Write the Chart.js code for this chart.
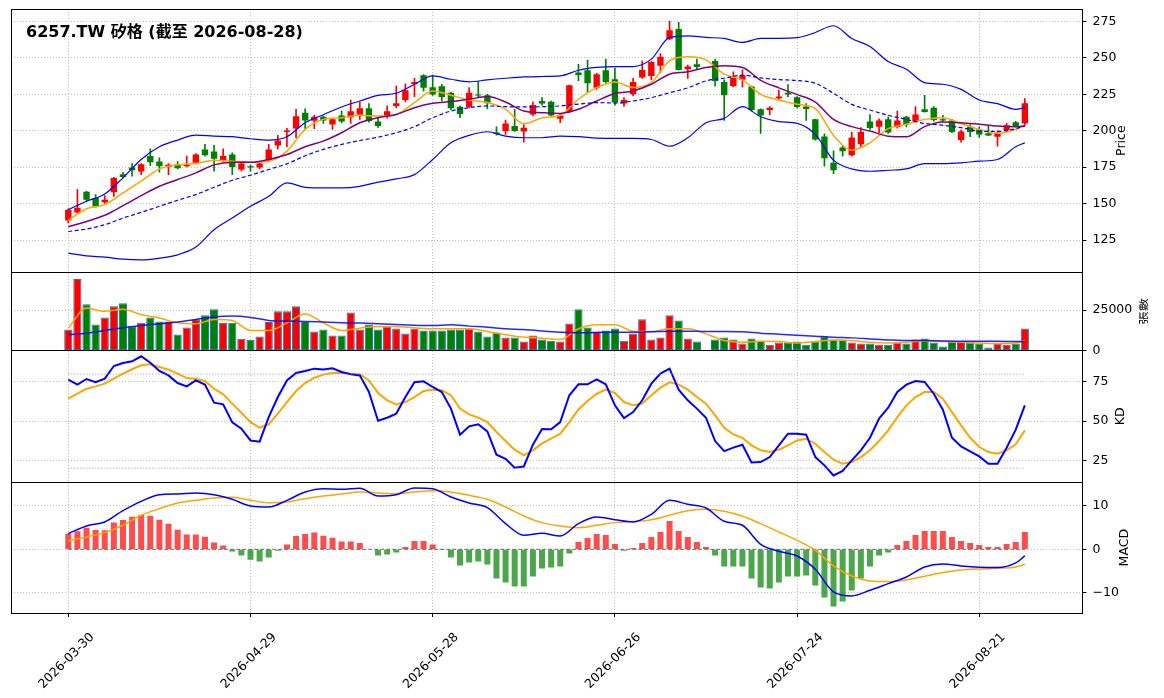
<!DOCTYPE html>
<html>
<head>
<meta charset="utf-8">
<title>6257.TW 矽格</title>
<script src="https://cdn.jsdelivr.net/npm/chart.js@4.4.1/dist/chart.umd.min.js"></script>
<style>
  html, body { margin: 0; padding: 0; background: #fff; }
  #wrap { width: 1164px; height: 698px; position: relative; }
</style>
</head>
<body>
<div id="wrap"><canvas id="chart"></canvas></div>
<script>
// values (one entry per trading day, index 70 = no trade)
const titleText = "6257.TW 矽格 (截至 2026-08-28)";
const axisTitles = ["Price", "張數", "KD", "MACD"];
const tickIdx = [0, 20, 40, 60, 80, 100];
const tickDates = ["2026-03-30", "2026-04-29", "2026-05-28", "2026-06-26", "2026-07-24", "2026-08-21"];

const opens = [
  138.5, 144.0, 158.2, 153.9, 150.9, 157.8, 170.2, 174.7, 172.0, 182.6,
  178.9, 175.2, 176.8, 175.7, 178.0, 187.1, 185.8, 179.8, 183.7, 173.4,
  175.7, 174.7, 179.8, 189.9, 199.1, 201.6, 212.4, 206.9, 209.6, 204.3,
  210.5, 209.2, 211.0, 215.4, 206.4, 210.1, 217.0, 221.1, 232.1, 238.1,
  229.8, 230.5, 226.1, 216.5, 216.3, 224.8, 224.3, 198.8, 199.8, 203.2,
  199.5, 211.2, 220.4, 219.9, 208.2, 212.8, 239.9, 241.5, 229.4, 241.5,
  235.3, 218.6, 225.0, 236.5, 237.6, 244.5, 262.8, 269.7, 242.2, 245.6,
  null, 247.9, 233.5, 230.7, 234.9, 230.3, 214.7, 214.2, 222.2, 226.1,
  222.9, 216.7, 207.8, 196.1, 178.0, 188.5, 183.2, 190.8, 206.4, 202.7,
  207.8, 202.5, 209.6, 206.4, 214.7, 215.8, 207.8, 207.1, 193.6, 202.7,
  200.9, 198.2, 195.9, 200.4, 205.9, 205.0
];
const closes = [
  145.8, 147.2, 152.7, 148.1, 152.7, 167.6, 168.3, 172.9, 177.0, 178.4,
  175.7, 176.6, 174.3, 176.6, 183.7, 183.2, 180.7, 182.6, 175.2, 177.5,
  174.7, 177.5, 187.1, 193.3, 200.2, 209.9, 207.1, 209.6, 207.1, 207.8,
  206.4, 213.3, 215.4, 206.6, 203.2, 213.3, 218.8, 227.7, 233.5, 229.4,
  224.8, 223.2, 215.4, 211.5, 226.1, 224.1, 218.8, 197.8, 205.0, 199.8,
  202.0, 217.6, 218.6, 210.5, 210.5, 231.2, 238.3, 232.6, 238.8, 233.5,
  219.3, 221.1, 233.5, 241.7, 247.2, 250.7, 269.0, 241.7, 244.0, 243.8,
  null, 234.2, 224.3, 236.5, 238.1, 214.2, 210.5, 215.8, 223.4, 224.8,
  216.3, 214.9, 194.0, 181.2, 172.9, 186.0, 195.4, 199.3, 201.8, 207.1,
  198.8, 207.1, 204.3, 211.2, 212.8, 207.3, 207.1, 199.1, 199.5, 199.1,
  197.5, 196.8, 198.6, 203.7, 203.2, 218.8
];
const highs = [
  146.5, 159.6, 158.5, 156.2, 155.5, 168.0, 171.5, 177.5, 177.5, 187.6,
  181.4, 177.5, 178.9, 182.6, 184.4, 190.6, 190.0, 187.6, 184.8, 178.0,
  176.6, 179.1, 190.6, 196.8, 201.6, 214.7, 215.1, 210.5, 210.1, 208.2,
  213.5, 221.1, 219.7, 218.6, 208.9, 217.0, 230.7, 232.1, 236.0, 238.6,
  238.1, 231.9, 226.6, 217.0, 229.6, 233.9, 225.0, 202.7, 207.3, 214.7,
  204.3, 219.9, 222.7, 220.4, 211.9, 231.4, 245.6, 248.4, 239.4, 249.1,
  242.9, 222.7, 236.0, 247.9, 247.5, 253.0, 275.0, 274.3, 245.0, 249.1,
  null, 249.1, 234.9, 240.4, 241.7, 230.7, 215.1, 216.5, 227.9, 231.6,
  223.4, 218.6, 208.0, 197.9, 186.2, 189.4, 199.1, 202.1, 211.0, 208.2,
  209.6, 213.5, 210.1, 216.5, 224.3, 216.5, 210.5, 207.8, 200.4, 204.3,
  202.7, 203.2, 199.8, 205.0, 206.4, 222.0
];
const lows = [
  136.7, 143.5, 151.5, 147.6, 150.4, 155.0, 167.6, 168.8, 169.9, 176.1,
  171.5, 169.9, 173.8, 175.2, 177.5, 182.6, 172.2, 178.9, 169.9, 172.5,
  172.2, 173.8, 179.1, 187.6, 189.0, 195.2, 201.4, 201.4, 205.0, 200.9,
  205.5, 205.0, 207.8, 205.9, 202.3, 208.7, 215.6, 219.7, 223.4, 227.1,
  224.3, 220.4, 214.2, 209.0, 215.8, 223.0, 215.0, 197.0, 197.5, 199.6,
  192.2, 210.1, 217.6, 210.1, 205.5, 212.4, 234.4, 226.1, 228.4, 232.6,
  217.6, 216.6, 223.8, 235.8, 234.9, 239.9, 262.4, 241.5, 235.8, 242.6,
  null, 230.5, 207.1, 230.0, 229.8, 213.5, 198.2, 211.0, 221.1, 223.4,
  215.6, 207.1, 193.5, 175.7, 170.6, 182.6, 182.6, 189.0, 200.9, 198.6,
  198.1, 201.8, 202.7, 206.0, 212.8, 206.6, 206.4, 198.6, 192.2, 195.9,
  195.4, 196.6, 189.4, 199.1, 202.7, 203.7
];
const volumes = [
  12900, 44200, 28500, 16000, 20400, 27300, 29200, 15000, 17100, 20400,
  17900, 17900, 9800, 14200, 19200, 21700, 25400, 17100, 17100, 7100,
  6500, 8500, 17500, 24200, 24200, 27300, 17500, 11700, 12900, 9200,
  9200, 23500, 12900, 16000, 12900, 14800, 13500, 10400, 13500, 12300,
  12300, 12300, 12900, 12900, 13500, 11700, 8500, 11000, 7900, 7900,
  5400, 9200, 6700, 6000, 5400, 16700, 25400, 14200, 11700, 12300,
  13500, 6000, 10400, 19200, 6700, 7900, 21700, 18500, 7300, 5400,
  null, 6700, 7900, 6700, 4200, 7300, 6000, 3500, 4800, 4800,
  5400, 3500, 5400, 8500, 6700, 6700, 4800, 4200, 4200, 3500,
  3500, 4800, 4200, 6700, 7300, 4800, 2300, 5400, 5400, 4800,
  4200, 1700, 4200, 3500, 4200, 13500
];
const kValues = [
  76.5, 73.3, 76.9, 74.8, 77.1, 85.2, 87.1, 88.2, 91.4, 87.3,
  82.0, 79.2, 74.3, 72.2, 76.0, 73.3, 61.8, 60.7, 49.2, 45.2,
  37.7, 36.9, 52.6, 65.4, 76.0, 80.7, 82.0, 83.5, 82.9, 83.7,
  81.4, 79.9, 79.2, 68.6, 50.3, 52.2, 54.8, 65.4, 74.8, 75.4,
  71.8, 68.6, 58.0, 41.4, 46.7, 48.0, 43.5, 28.6, 26.0, 20.3,
  21.1, 35.0, 45.0, 44.8, 49.4, 66.5, 73.5, 73.5, 76.7, 73.5,
  60.1, 52.0, 55.8, 63.3, 73.9, 80.3, 83.5, 70.1, 63.3, 58.0,
  52.2, 37.3, 30.9, 33.1, 35.0, 23.7, 23.9, 27.1, 34.6, 42.0,
  42.0, 41.4, 27.1, 21.8, 15.4, 18.2, 25.0, 31.4, 39.4, 51.6,
  58.6, 68.6, 73.3, 75.6, 75.0, 67.5, 57.3, 39.4, 33.9, 30.7,
  27.5, 22.8, 22.8, 33.1, 44.6, 60.1
];
const dValues = [
  64.3, 67.5, 70.7, 72.2, 73.9, 77.1, 80.3, 83.1, 85.6, 86.3,
  84.6, 82.9, 80.3, 77.5, 76.9, 75.6, 70.7, 67.1, 61.2, 55.4,
  49.4, 45.8, 48.0, 54.8, 62.2, 69.2, 74.3, 77.7, 79.7, 80.7,
  80.9, 80.3, 79.9, 76.0, 68.0, 63.3, 60.7, 62.2, 65.4, 69.2,
  70.1, 69.7, 66.5, 58.0, 54.3, 52.2, 49.4, 43.1, 37.3, 31.8,
  28.2, 31.4, 35.8, 38.8, 42.0, 49.4, 57.5, 62.9, 67.5, 70.1,
  68.0, 62.2, 60.1, 61.2, 66.5, 71.4, 74.8, 73.3, 70.1, 65.4,
  61.2, 53.7, 45.8, 41.6, 39.4, 34.6, 31.4, 30.3, 31.8, 34.6,
  37.7, 38.8, 35.6, 30.3, 25.4, 22.8, 23.9, 27.1, 31.4, 37.3,
  44.1, 52.6, 60.1, 65.4, 68.6, 68.6, 64.3, 55.8, 47.3, 39.4,
  33.5, 30.3, 29.2, 31.4, 35.2, 44.1
];
const macdHist = [
  3.59, 4.12, 4.96, 4.43, 4.35, 6.11, 6.72, 7.48, 7.86, 7.71,
  6.79, 5.88, 4.50, 3.36, 3.36, 2.90, 1.53, 0.84, -0.53, -1.45,
  -2.37, -2.82, -1.91, -0.31, 1.07, 3.05, 3.51, 3.82, 3.13, 2.67,
  1.76, 1.76, 1.45, 0.05, -1.45, -1.22, -0.76, 0.53, 1.91, 1.91,
  1.07, -0.05, -1.91, -3.74, -3.05, -2.82, -3.51, -6.72, -7.63, -8.55,
  -8.55, -6.26, -4.43, -4.20, -3.97, -0.99, 1.68, 2.60, 3.51, 3.28,
  1.22, -0.31, 0.31, 1.45, 2.82, 3.97, 6.49, 4.20, 2.82, 1.68,
  0.53, -1.45, -3.97, -3.97, -3.97, -6.72, -8.78, -9.01, -7.63, -6.26,
  -6.26, -6.03, -8.32, -11.07, -13.13, -11.98, -9.47, -6.72, -3.97, -1.45,
  -0.76, 0.99, 1.91, 3.28, 4.20, 4.20, 4.20, 2.82, 1.91, 1.45,
  0.99, 0.53, 0.53, 1.22, 1.68, 3.97
];

// smooth lines were read every second day (plus the last day)
const lineIdx = Array.from({ length: 53 }, (_, k) => k * 2).concat([105]);
const bbUpper = [
  145.9, 151.6, 156.6, 167.7, 180.3, 189.0, 193.6, 197.0, 196.3, 195.9,
  194.5, 193.6, 195.9, 205.5, 211.0, 216.3, 220.4, 224.3, 225.7, 231.9,
  237.6, 235.3, 233.5, 234.9, 236.0, 236.9, 237.2, 237.6, 241.5, 243.4,
  244.0, 244.0, 249.1, 264.0, 265.1, 264.0, 263.3, 260.6, 263.3, 263.4,
  263.8, 267.4, 272.0, 263.3, 257.8, 247.5, 242.2, 233.0, 231.9, 228.4,
  221.1, 218.6, 214.7, 215.8
];
const ma5 = [
  138.5, 146.5, 149.3, 157.3, 165.4, 173.8, 176.6, 177.5, 179.8, 179.1,
  178.4, 179.1, 186.0, 200.9, 207.8, 208.9, 210.6, 210.1, 211.2, 219.3,
  227.3, 224.3, 221.1, 219.3, 214.7, 204.8, 208.7, 210.6, 221.6, 229.6,
  233.5, 229.6, 233.0, 247.9, 250.7, 248.6, 238.8, 234.9, 225.0, 221.1,
  218.1, 215.1, 196.8, 186.7, 191.7, 201.4, 204.4, 207.8, 208.9, 204.8,
  200.9, 198.2, 200.9, 203.7
];
const ma10 = [
  134.2, 137.8, 142.0, 148.6, 155.5, 161.9, 166.5, 171.1, 176.6, 178.4,
  178.4, 180.3, 183.7, 189.0, 192.9, 198.6, 205.5, 208.9, 211.2, 215.8,
  218.8, 220.0, 221.6, 223.4, 219.7, 213.5, 212.4, 211.9, 214.7, 220.4,
  225.5, 227.3, 231.9, 238.8, 240.4, 243.4, 244.5, 243.4, 234.6, 229.4,
  224.8, 219.7, 207.8, 202.8, 199.8, 196.3, 195.9, 202.8, 206.0, 205.5,
  204.4, 203.2, 202.8, 203.4
];
const ma20 = [
  130.9, 132.6, 135.5, 140.1, 144.0, 148.2, 152.3, 156.2, 161.2, 166.0,
  169.5, 173.4, 177.3, 182.8, 187.2, 190.6, 193.3, 195.6, 198.6, 202.8,
  208.9, 213.5, 215.8, 217.0, 216.5, 216.3, 216.5, 217.0, 218.3, 219.3,
  219.0, 220.4, 222.7, 226.1, 229.4, 234.2, 236.0, 238.1, 236.2, 235.1,
  234.4, 232.6, 225.7, 218.1, 214.2, 210.6, 207.8, 205.0, 203.7, 202.1,
  199.8, 199.5, 201.4, 203.2
];
const bbLower = [
  116.0, 114.2, 113.3, 111.9, 111.4, 112.6, 114.9, 120.2, 132.1, 140.1,
  148.2, 155.0, 164.2, 161.2, 160.8, 160.8, 161.9, 164.7, 167.0, 169.9,
  180.3, 191.7, 196.8, 199.3, 196.3, 195.2, 195.2, 196.3, 195.9, 195.0,
  194.7, 194.7, 194.0, 189.4, 195.2, 205.5, 208.5, 216.5, 209.6, 206.2,
  205.0, 197.5, 179.8, 173.8, 172.2, 172.9, 173.8, 177.5, 177.5, 178.0,
  179.1, 180.3, 189.0, 191.7
];
const volMa5 = [
  13750, 26250, 24160, 25410, 22080, 20000, 17080, 16460, 19160, 18540,
  12290, 12290, 17000, 22500, 17080, 12290, 13750, 14790, 14790, 13960,
  13330, 13330, 13330, 11660, 9580, 8120, 7500, 6670, 13330, 15830,
  15830, 11870, 11660, 13330, 13330, 10210, 6040, 5000, 5620, 5420,
  4580, 5420, 6460, 6040, 5000, 4580, 5000, 5830, 5420, 5000,
  4580, 4170, 4580, 6040
];
const volMa20 = [
  9790, 10620, 12290, 13960, 15410, 16460, 17500, 19160, 20620, 21250,
  20410, 18540, 18120, 17910, 17500, 17080, 16870, 16460, 16040, 15620,
  15410, 15830, 15000, 14370, 13330, 12910, 12000, 11250, 10830, 11040,
  11250, 11250, 11460, 11870, 11870, 11660, 11660, 11460, 10620, 10000,
  9370, 8750, 8120, 7710, 7080, 6460, 6040, 6040, 5830, 5620,
  5620, 5620, 5420, 5420
];
const macdDif = [
  3.59, 5.34, 6.26, 8.85, 10.99, 12.52, 12.67, 12.90, 12.52, 11.45,
  9.92, 9.69, 11.22, 13.13, 13.89, 13.74, 13.97, 12.21, 12.52, 14.05,
  13.89, 11.98, 10.61, 9.54, 5.88, 3.21, 3.66, 3.05, 5.88, 7.40,
  6.79, 6.26, 8.02, 11.22, 10.31, 9.47, 6.41, 5.50, 1.15, -0.46,
  -1.53, -4.58, -9.77, -10.69, -9.39, -7.86, -6.34, -4.05, -3.36, -3.82,
  -4.12, -4.20, -3.13, -1.53
];
const macdSignal = [
  1.98, 2.82, 3.82, 5.50, 7.79, 9.31, 10.61, 11.22, 11.76, 11.91,
  11.22, 10.69, 10.84, 11.60, 12.21, 12.67, 13.13, 12.90, 12.75, 13.13,
  13.44, 13.13, 12.37, 11.45, 9.69, 7.63, 6.11, 5.34, 4.96, 5.50,
  6.11, 6.34, 6.79, 7.79, 8.85, 9.16, 8.70, 7.56, 5.88, 3.97,
  2.06, -0.23, -3.82, -6.11, -7.25, -7.40, -7.02, -6.18, -5.34, -4.73,
  -4.50, -4.35, -4.05, -3.44
];
const kdBands = [80, 20];

// ---- chart ----
Chart.defaults.font.family = '"DejaVu Sans", "Noto Sans CJK TC", sans-serif';
Chart.defaults.font.size = 12.5;
Chart.defaults.color = "#000";

const labels = opens.map((_, i) => i);
const pts = (arr) => arr.map((y, k) => ({ x: lineIdx[k], y }));
const candleColor = opens.map((o, i) => (closes[i] >= o ? "#ff0000" : "#008000"));
const histColor = macdHist.map((v) => (v >= 0 ? "rgba(255,0,0,0.7)" : "rgba(0,128,0,0.7)"));

const line = (axis, data, color, width, extra) =>
  Object.assign({ type: "line", yAxisID: axis, data, borderColor: color, borderWidth: width,
    pointRadius: 0, fill: false, order: 1 }, extra || {});
const smooth = { cubicInterpolationMode: "monotone" };

const datasets = [
  // price panel
  line("y", pts(bbUpper), "#0000ff", 1.2, smooth),
  line("y", pts(bbLower), "#0000ff", 1.2, smooth),
  line("y", pts(ma20), "#0000ff", 1.2, Object.assign({ borderDash: [4, 2.5] }, smooth)),
  line("y", pts(ma10), "#800080", 1.5, smooth),
  line("y", pts(ma5), "#ffa500", 1.5, smooth),
  { type: "bar", yAxisID: "y", order: 3, grouped: false, barThickness: 1,
    data: highs.map((h, i) => (h == null ? null : [lows[i], h])), backgroundColor: candleColor },
  { type: "bar", yAxisID: "y", order: 2, grouped: false, barPercentage: 0.7, categoryPercentage: 1,
    minBarLength: 1, data: opens.map((o, i) => (o == null ? null : [o, closes[i]])), backgroundColor: candleColor },
  // volume panel
  line("yv", pts(volMa20), "rgba(0,0,255,0.85)", 1.5, smooth),
  line("yv", pts(volMa5), "#ffa500", 1.5, smooth),
  { type: "bar", yAxisID: "yv", order: 2, grouped: false, barPercentage: 0.9, categoryPercentage: 1,
    data: volumes, backgroundColor: candleColor, borderColor: "#1f77b4", borderWidth: 1, borderSkipped: false },
  // KD panel
  line("yk", labels.map(() => kdBands[0]), "#999999", 1, { borderDash: [1, 2] }),
  line("yk", labels.map(() => kdBands[1]), "#999999", 1, { borderDash: [1, 2] }),
  line("yk", kValues, "#0000ff", 2),
  line("yk", dValues, "#ffa500", 2),
  // MACD panel
  line("ym", pts(macdDif), "#0000ff", 1.5, smooth),
  line("ym", pts(macdSignal), "#ffa500", 1.5, smooth),
  line("ym", labels.map(() => 0), "#888888", 1.2, { borderDash: [4, 2], order: 4 }),
  { type: "bar", yAxisID: "ym", order: 3, grouped: false, barPercentage: 0.66, categoryPercentage: 1,
    data: macdHist, backgroundColor: histColor }
];

const gridOpts = { color: "#b0b0b0", lineWidth: 0.8, tickLength: 4, tickColor: "#000", tickWidth: 1, offset: false };

// keep the plot box where the reference has it (no extra room for edge labels)
function noPad(s) {
  s.paddingTop = 0;
  s.paddingBottom = 0;
  s.paddingLeft = 0;
  s.paddingRight = 0;
}

function yAxis(weight, min, max, ticks, fmt) {
  return {
    type: "linear", position: "right", stack: "panels", stackWeight: weight, min, max,
    afterBuildTicks: (s) => { s.ticks = ticks.map((v) => ({ value: v })); },
    afterFit: (s) => { s.width = 81.5; noPad(s); },
    grid: gridOpts,
    border: { display: false, dash: [1, 2] },
    ticks: { padding: 6, callback: fmt || ((v) => String(v)) }
  };
}

const decor = {
  id: "decor",
  afterDraw(chart) {
    const { ctx, chartArea: a, scales } = chart;
    const panels = ["y", "yv", "yk", "ym"];
    ctx.save();
    ctx.strokeStyle = "#000";
    ctx.lineWidth = 1;
    panels.forEach((id) => {
      const s = scales[id];
      ctx.strokeRect(Math.round(a.left) + 0.5, Math.round(s.top) + 0.5,
        Math.round(a.right - a.left) - 1, Math.round(s.bottom - s.top));
    });
    ctx.fillStyle = "#000";
    ctx.font = 'bold 16px "DejaVu Sans", "Noto Sans CJK TC"';
    ctx.textAlign = "left";
    ctx.textBaseline = "alphabetic";
    ctx.fillText(titleText, a.left + 15, a.top + 28);

    const offs = [39, 61, 38.5, 42.5];
    panels.forEach((id, k) => {
      const s = scales[id];
      ctx.save();
      ctx.translate(a.right + offs[k], (s.top + s.bottom) / 2);
      ctx.rotate(-Math.PI / 2);
      ctx.textAlign = "center";
      ctx.textBaseline = "middle";
      if (k === 1) {
        ctx.font = '11px "Noto Sans CJK TC"';
        ctx.scale(1.2, 0.85);
      } else {
        ctx.font = '12.5px "DejaVu Sans"';
      }
      ctx.fillText(axisTitles[k], 0, 0);
      ctx.restore();
    });
    ctx.restore();
  }
};

new Chart(document.getElementById("chart"), {
  data: { labels, datasets },
  options: {
    responsive: true,
    maintainAspectRatio: false,
    animation: false,
    events: [],
    layout: { padding: { left: 11, top: 9, right: 0, bottom: 0 } },
    plugins: { legend: { display: false }, tooltip: { enabled: false } },
    scales: {
      x: {
        type: "linear", min: -6.29, max: 111.33, offset: false,
        afterBuildTicks: (s) => { s.ticks = tickIdx.map((v) => ({ value: v })); },
        afterFit: (s) => { s.height = 85; noPad(s); },
        grid: gridOpts,
        border: { display: false, dash: [1, 2] },
        ticks: { autoSkip: false, minRotation: 45, maxRotation: 45, labelOffset: 24, padding: 13,
          callback: (v) => tickDates[tickIdx.indexOf(v)] }
      },
      y: yAxis(263.3, 102.9, 283.5, [125, 150, 175, 200, 225, 250, 275]),
      yv: yAxis(78, 0, 48400, [0, 25000]),
      yk: yAxis(132, 11, 95.2, [25, 50, 75]),
      ym: yAxis(130.7, -14.6, 15.35, [-10, 0, 10], (v) => (v < 0 ? "\u2212" + Math.abs(v) : String(v)))
    }
  },
  plugins: [decor]
});
</script>
</body>
</html>
